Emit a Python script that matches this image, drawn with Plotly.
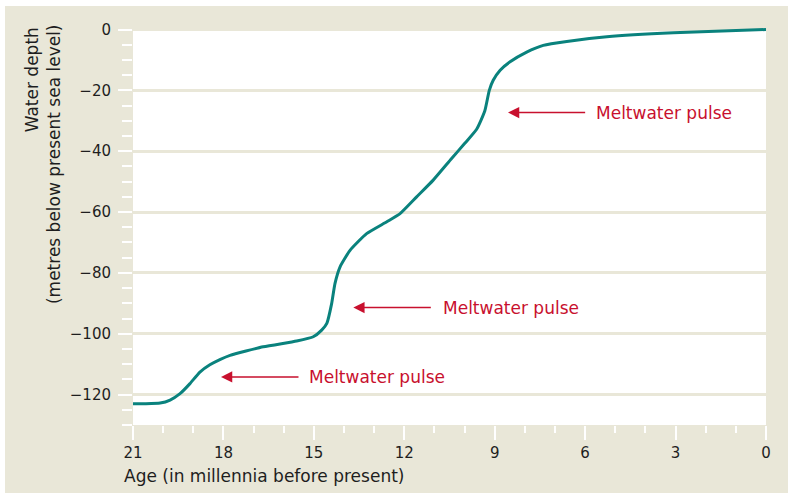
import plotly.graph_objects as go

# Sea-level curve since the last glacial maximum
age_ka = [21.0, 20.6, 20.1, 19.77, 19.44, 19.11, 18.78, 18.45, 18.1, 17.78, 16.68,
          15.57, 15.02, 14.74, 14.57, 14.41, 14.30, 14.13, 13.80, 13.25, 12.58,
          12.14, 11.59, 11.04, 10.43, 10.0, 9.6, 9.33, 9.18, 9.05,
          8.82, 8.49, 7.94, 7.39, 6.61, 5.28, 3.07, 0.0]
depth_m = [-123.0, -123.0, -122.8, -121.8, -119.7, -116.4, -112.6, -110.2, -108.4, -107.1, -104.3,
           -102.4, -101.0, -98.8, -96.6, -90.1, -83.5, -78.0, -72.6, -67.1, -63.2,
           -60.5, -55.0, -49.5, -42.4, -37.5, -32.8, -26.8, -20.0, -16.7,
           -13.4, -10.6, -7.4, -5.2, -3.9, -2.4, -1.1, 0.0]

# Meltwater pulse callouts: arrow head, arrow tail, label start, depth
pulse_head = [8.56, 13.69, 18.08]
pulse_tail = [5.95, 11.07, 15.46]
pulse_text_x = [5.72, 10.79, 15.22]
pulse_depth = [-27.3, -91.4, -114.2]
pulse_label = "Meltwater pulse"

x_ticks = [21, 18, 15, 12, 9, 6, 3, 0]
y_ticks = [0, -20, -40, -60, -80, -100, -120]

BEIGE = "#E9E7D8"
TEAL = "#0A827D"
RED = "#C8102E"
TEXT = "#1e1e1e"
FONT = "DejaVu Sans"

fig = go.Figure()
fig.add_trace(go.Scatter(
    x=age_ka, y=depth_m, mode="lines",
    line=dict(color=TEAL, width=3, shape="spline", smoothing=0.5),
    hoverinfo="skip", showlegend=False,
))

annotations = []
for head, tail, tx, d in zip(pulse_head, pulse_tail, pulse_text_x, pulse_depth):
    annotations.append(dict(
        x=head, y=d, ax=tail, ay=d, xref="x", yref="y", axref="x", ayref="y",
        text="", showarrow=True, arrowhead=2, arrowsize=1.5, arrowwidth=1.5,
        arrowcolor=RED, standoff=0, startstandoff=0,
    ))
    annotations.append(dict(
        x=tx, y=d, xref="x", yref="y", text=pulse_label, showarrow=False,
        xanchor="left", yanchor="middle",
        font=dict(family=FONT, size=17, color=RED),
    ))

# Axis titles
annotations.append(dict(
    x=-0.1596, y=1.008, xref="paper", yref="paper", text="Water depth",
    textangle=-90, showarrow=False, xanchor="center", yanchor="top",
    font=dict(family=FONT, size=17, color=TEXT),
))
annotations.append(dict(
    x=-0.1248, y=1.015, xref="paper", yref="paper",
    text="(metres below present sea level)",
    textangle=-90, showarrow=False, xanchor="center", yanchor="top",
    font=dict(family=FONT, size=17, color=TEXT),
))
annotations.append(dict(
    x=-0.0174, y=-0.1285, xref="paper", yref="paper",
    text="Age (in millennia before present)",
    showarrow=False, xanchor="left", yanchor="middle",
    font=dict(family=FONT, size=17, color=TEXT),
))

fig.update_layout(
    width=788, height=493,
    margin=dict(l=133, r=22, t=28, b=68),
    paper_bgcolor=BEIGE, plot_bgcolor="white",
    font=dict(family=FONT, size=15, color=TEXT),
    annotations=annotations,
    shapes=[
        dict(type="rect", xref="paper", yref="paper", x0=-133 / 633, x1=-128 / 633,
             y0=-68 / 397, y1=465 / 397, fillcolor="white", line=dict(width=0), layer="above"),
        dict(type="rect", xref="paper", yref="paper", x0=-133 / 633, x1=655 / 633,
             y0=397 / 397 + 22 / 397, y1=425 / 397, fillcolor="white", line=dict(width=0), layer="above"),
    ],
)

fig.update_xaxes(
    range=[21, 0], tickvals=x_ticks, ticktext=[str(v) for v in x_ticks],
    showgrid=False, zeroline=False, showline=False,
    ticks="outside", ticklen=14, tickwidth=2, tickcolor="white",
    minor=dict(dtick=1, tick0=0, ticks="outside", ticklen=7, tickwidth=2,
               tickcolor="white", showgrid=False),
    tickfont=dict(family=FONT, size=15, color=TEXT),
)
fig.update_yaxes(
    range=[-130, 0.5], tickvals=y_ticks,
    ticktext=["0" if v == 0 else "\u2212" + str(-v) for v in y_ticks],
    showgrid=True, gridcolor=BEIGE, gridwidth=2.5, zeroline=False, showline=False,
    ticks="outside", ticklen=14, tickwidth=2, tickcolor="white", ticklabelstandoff=4,
    minor=dict(dtick=5, tick0=0, ticks="outside", ticklen=10, tickwidth=2,
               tickcolor="white", showgrid=False),
    tickfont=dict(family=FONT, size=15, color=TEXT),
)

fig.write_html("out.html")
